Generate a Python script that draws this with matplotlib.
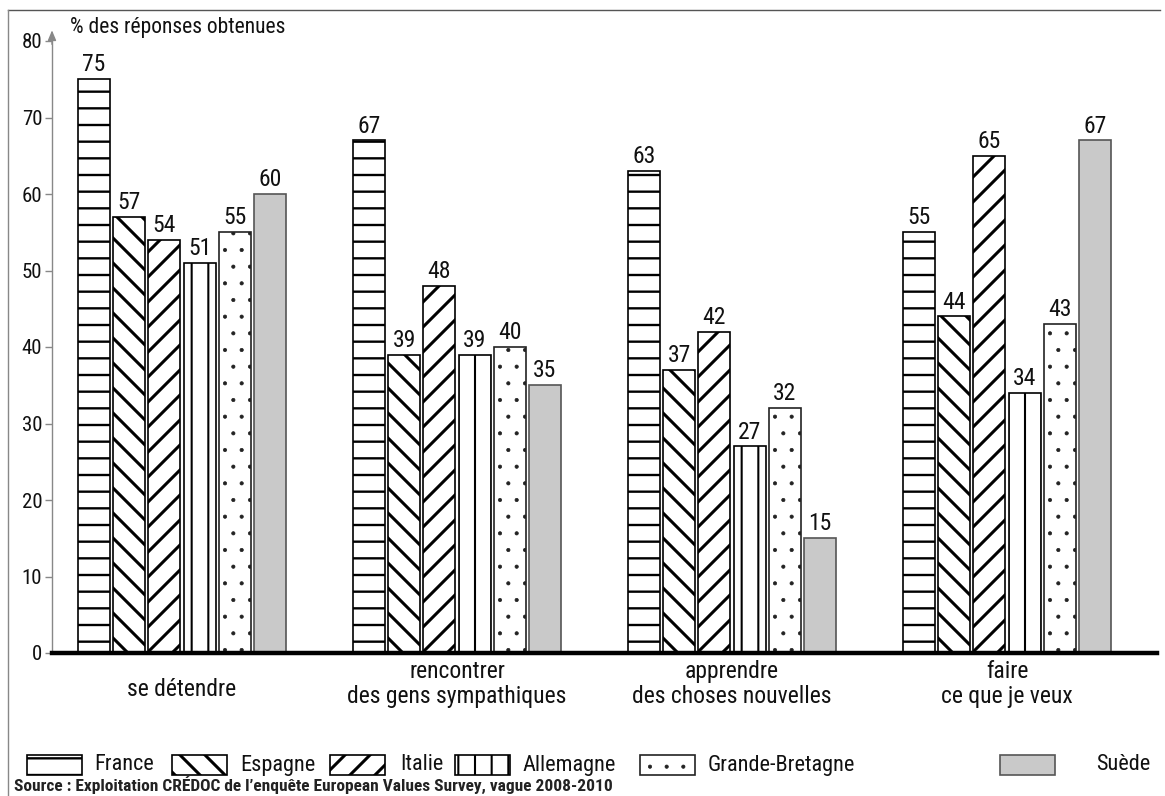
import warnings
warnings.filterwarnings("ignore")
import matplotlib
matplotlib.use("Agg")
import matplotlib.pyplot as plt
import matplotlib.hatch as mhatch
from matplotlib import font_manager
from matplotlib.patches import Rectangle
from matplotlib.lines import Line2D
import numpy as np

# ---------------- data ----------------
categories = ["se détendre", "rencontrer\ndes gens sympathiques",
              "apprendre\ndes choses nouvelles", "faire\nce que je veux"]
countries = ["France", "Espagne", "Italie", "Allemagne", "Grande-Bretagne", "Suède"]
france = [75, 67, 63, 55]
espagne = [57, 39, 37, 44]
italie = [54, 48, 42, 65]
allemagne = [51, 39, 27, 34]
grande_bretagne = [55, 40, 32, 43]
suede = [60, 35, 15, 67]
series = [france, espagne, italie, allemagne, grande_bretagne, suede]
yticks = [0, 10, 20, 30, 40, 50, 60, 70, 80]
ylabel = "% des réponses obtenues"
source = "Source : Exploitation CRÉDOC de l\u2019enquête European Values Survey, vague 2008-2010"


# diagonal hatches with the spacing of the printed chart
class SparseNE(mhatch.NorthEastHatch):
    def __init__(self, hatch, density):
        self.num_lines = int(hatch.count('n') * density * 4 / 3)
        self.num_vertices = (self.num_lines + 1) * 2 if self.num_lines else 0


class SparseSE(mhatch.SouthEastHatch):
    def __init__(self, hatch, density):
        self.num_lines = int(hatch.count('w') * density * 4 / 3)
        self.num_vertices = (self.num_lines + 1) * 2 if self.num_lines else 0


mhatch._hatch_types.extend([SparseNE, SparseSE])

# ---------------- styles ----------------
hatches = ["-", "w", "n", "|", ".", ""]
faces = ["white", "white", "white", "white", "white", "#c9c9c9"]
edges = ["black", "black", "black", "black", "#222222", "#555555"]
hatch_lw = [1.7, 2.2, 2.2, 1.5, 0.5, 1.0]

avail = {f.name for f in font_manager.fontManager.ttflist}
fam = [f for f in ["Liberation Sans Narrow", "Roboto Condensed", "Roboto", "DejaVu Sans"] if f in avail]
plt.rcParams["font.family"] = fam

W, H = 1165, 796
fig = plt.figure(figsize=(W / 100, H / 100), dpi=100)

ax_left, ax_right, ax_bottom, ax_top = 52, 1157, 653, 41
ax = fig.add_axes([ax_left / W, 1 - ax_bottom / H, (ax_right - ax_left) / W, (ax_bottom - ax_top) / H])

group_px = 275.0
step = 35.2 / group_px
width = 32.0 / group_px
x = np.arange(len(categories))


def set_hlw(patch, lw):
    if hasattr(patch, "set_hatch_linewidth"):
        patch.set_hatch_linewidth(lw)


for i, vals in enumerate(series):
    pos = x + (i - 2.5) * step
    with plt.rc_context({"hatch.linewidth": hatch_lw[i]}):
        bars = ax.bar(pos, vals, width=width, facecolor=faces[i], edgecolor=edges[i],
                      hatch=hatches[i], linewidth=1.2, zorder=2)
    for b, v in zip(bars, vals):
        set_hlw(b, hatch_lw[i])
        ax.annotate(str(v), (b.get_x() + b.get_width() / 2, v), xytext=(0, 2),
                    textcoords="offset points", ha="center", va="bottom",
                    fontsize=17, color="#111111")

ax.set_xlim(-(182 - ax_left) / group_px, (ax_right - 182) / group_px)
ax.set_ylim(0, 80)
ax.set_yticks(yticks)
ax.set_yticklabels([str(t) for t in yticks], fontsize=15, color="#111111")
ax.tick_params(axis="y", length=5, width=1, color="#888888", pad=2)
ax.set_xticks([])
for s in ["top", "right"]:
    ax.spines[s].set_visible(False)
ax.spines["left"].set_color("#888888")
ax.spines["left"].set_linewidth(1.0)
ax.spines["bottom"].set_color("black")
ax.spines["bottom"].set_linewidth(3.2)
ax.spines["bottom"].set_zorder(3)

# arrow on y axis
ax.annotate("", xy=(0, 1.022), xytext=(0, 0.99), xycoords="axes fraction",
            arrowprops=dict(arrowstyle="-|>,head_length=0.6,head_width=0.25",
                            color="#888888", lw=1.0))

fig.text(70 / W, 1 - 27 / H, ylabel, fontsize=15.5, ha="left", va="center", color="#111111")

# category labels
trans = ax.get_xaxis_transform()
for xi, c in zip(x, categories):
    yc = 684 if "\n" in c else 689
    ax.text(xi, -(yc - ax_bottom) / (ax_bottom - ax_top), c, transform=trans,
            ha="center", va="center", fontsize=17, linespacing=1.1, color="#111111")

# legend (manual layout to match the reference)
box_x = [27, 172, 330, 455, 640, 1000]
text_x = [94, 240, 400, 522, 708, 1096]
box_w, box_h = 55, 20
ly = 765
for i, name in enumerate(countries):
    with plt.rc_context({"hatch.linewidth": hatch_lw[i]}):
        r = Rectangle((box_x[i] / W, 1 - (ly + box_h / 2) / H), box_w / W, box_h / H,
                      transform=fig.transFigure, facecolor=faces[i], edgecolor=edges[i],
                      hatch=hatches[i], linewidth=1.2)
    set_hlw(r, hatch_lw[i])
    fig.add_artist(r)
    fig.text(text_x[i] / W, 1 - ly / H, name, fontsize=16, ha="left", va="center", color="#111111")

fig.text(14 / W, 1 - 785 / H, source, fontsize=12.5, fontweight="bold", ha="left",
         va="center", color="#222222")

# page frame (top and left edges)
fig.add_artist(Line2D([8 / W, 1160 / W], [1 - 10 / H, 1 - 10 / H], transform=fig.transFigure,
                      color="#555555", lw=1.0))
fig.add_artist(Line2D([8 / W, 8 / W], [1 - 10 / H, 0], transform=fig.transFigure,
                      color="#888888", lw=1.0))

fig.savefig("out.png", dpi=100)
